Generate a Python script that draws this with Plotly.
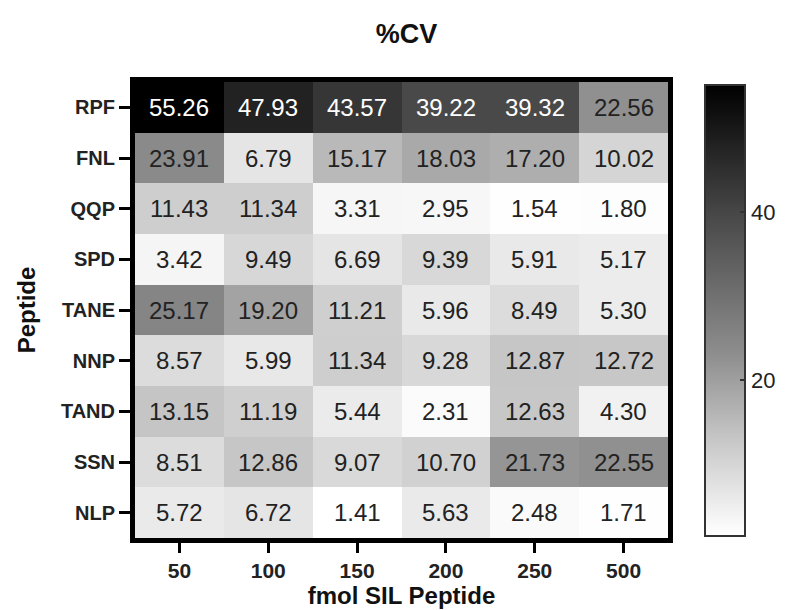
import plotly.graph_objects as go

peptides = ["RPF", "FNL", "QQP", "SPD", "TANE", "NNP", "TAND", "SSN", "NLP"]
fmol = ["50", "100", "150", "200", "250", "500"]
cv = [
    [55.26, 47.93, 43.57, 39.22, 39.32, 22.56],
    [23.91, 6.79, 15.17, 18.03, 17.20, 10.02],
    [11.43, 11.34, 3.31, 2.95, 1.54, 1.80],
    [3.42, 9.49, 6.69, 9.39, 5.91, 5.17],
    [25.17, 19.20, 11.21, 5.96, 8.49, 5.30],
    [8.57, 5.99, 11.34, 9.28, 12.87, 12.72],
    [13.15, 11.19, 5.44, 2.31, 12.63, 4.30],
    [8.51, 12.86, 9.07, 10.70, 21.73, 22.55],
    [5.72, 6.72, 1.41, 5.63, 2.48, 1.71],
]
colorbar_ticks = [20, 40]

FONT = "Liberation Sans, Arial, sans-serif"

xi = list(range(len(fmol)))
yi = list(range(len(peptides)))

fig = go.Figure(
    go.Heatmap(
        z=cv,
        x=xi,
        y=yi,
        colorscale=[
            [0, "#ffffff"],
            [0.2, "#cacaca"],
            [0.4, "#8e8e8e"],
            [0.7, "#4a4a4a"],
            [1, "#000000"],
        ],
        colorbar=dict(
            x=1.070,
            xanchor="left",
            xref="paper",
            xpad=0,
            y=0.5,
            yanchor="middle",
            ypad=0,
            len=0.99,
            lenmode="fraction",
            thickness=40,
            thicknessmode="pixels",
            outlinewidth=2,
            outlinecolor="#333333",
            tickvals=colorbar_ticks,
            ticks="inside",
            ticklen=6,
            tickwidth=2,
            tickcolor="#333333",
            tickfont=dict(family=FONT, size=22, color="#222222"),
        ),
    )
)

annotations = []
for i in yi:
    for j in xi:
        v = cv[i][j]
        annotations.append(
            dict(
                x=j,
                y=i,
                xref="x",
                yref="y",
                text=f"{v:.2f}",
                showarrow=False,
                font=dict(family=FONT, size=24, color="#ffffff" if v > 30 else "#222222"),
            )
        )

fig.update_layout(
    width=787,
    height=610,
    margin=dict(l=127, r=117, t=74, b=80),
    paper_bgcolor="white",
    plot_bgcolor="white",
    annotations=annotations,
    title=dict(
        text="%CV",
        x=(127 + 787 - 117) / 2 / 787,
        xref="container",
        xanchor="center",
        y=1 - 26 / 610,
        yref="container",
        yanchor="middle",
        font=dict(family=FONT, size=27, color="#111111", weight="bold"),
    ),
    xaxis=dict(
        tickvals=xi,
        ticktext=fmol,
        range=[-0.5, len(fmol) - 0.5],
        automargin=False,
        showline=True,
        mirror=True,
        linewidth=5,
        linecolor="black",
        ticks="outside",
        ticklen=10,
        tickwidth=3,
        tickcolor="black",
        tickfont=dict(family=FONT, size=21, color="#222222", weight="bold"),
        title=dict(
            text="fmol SIL Peptide",
            font=dict(family=FONT, size=24, color="#111111", weight="bold"),
            standoff=6,
        ),
        showgrid=False,
        zeroline=False,
    ),
    yaxis=dict(
        tickvals=yi,
        ticktext=peptides,
        range=[len(peptides) - 0.5, -0.5],
        automargin=False,
        showline=True,
        mirror=True,
        linewidth=5,
        linecolor="black",
        ticks="outside",
        ticklen=11,
        tickwidth=3,
        tickcolor="black",
        tickfont=dict(family=FONT, size=20, color="#222222", weight="bold"),
        title=dict(
            text="Peptide",
            font=dict(family=FONT, size=24, color="#111111", weight="bold"),
            standoff=20,
        ),
        showgrid=False,
        zeroline=False,
    ),
)

fig.write_html("out.html")
